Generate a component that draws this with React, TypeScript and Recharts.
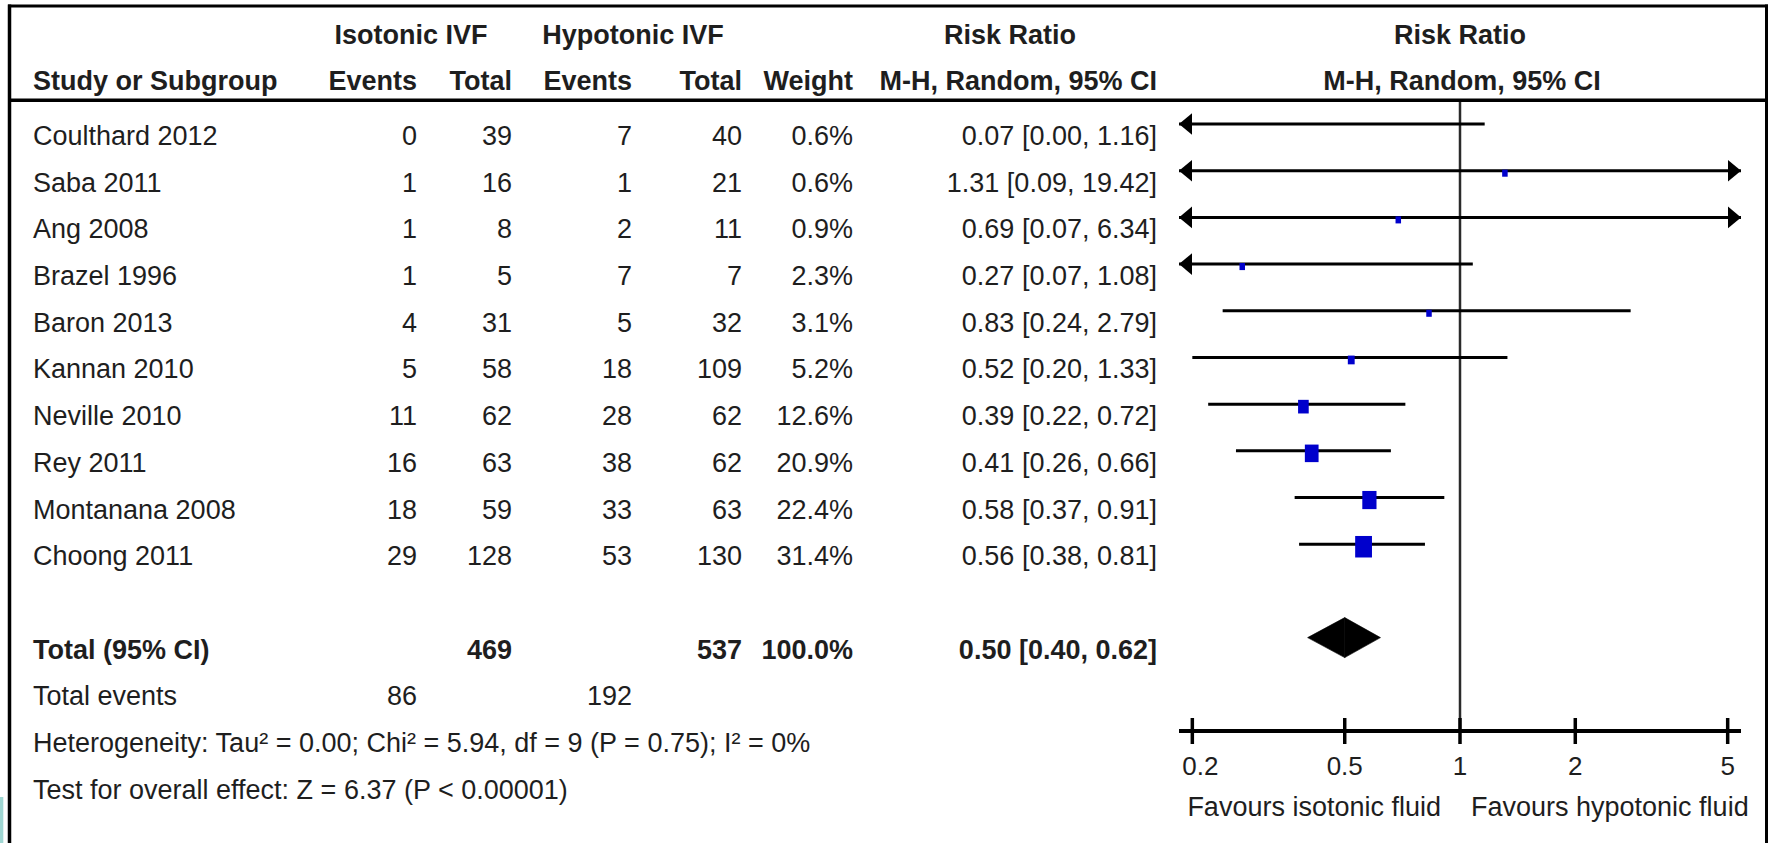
import React from 'react';
import { ComposedChart, XAxis, YAxis, Scatter, ReferenceLine } from 'recharts';

// ---------- data ----------
const studies = ['Coulthard 2012', 'Saba 2011', 'Ang 2008', 'Brazel 1996', 'Baron 2013', 'Kannan 2010', 'Neville 2010', 'Rey 2011', 'Montanana 2008', 'Choong 2011'];
const isoEvents = [0, 1, 1, 1, 4, 5, 11, 16, 18, 29];
const isoTotal = [39, 16, 8, 5, 31, 58, 62, 63, 59, 128];
const hypoEvents = [7, 1, 2, 7, 5, 18, 28, 38, 33, 53];
const hypoTotal = [40, 21, 11, 7, 32, 109, 62, 62, 63, 130];
const weights = [0.6, 0.6, 0.9, 2.3, 3.1, 5.2, 12.6, 20.9, 22.4, 31.4];
const riskRatio = [0.07, 1.31, 0.69, 0.27, 0.83, 0.52, 0.39, 0.41, 0.58, 0.56];
const ciLow = [0.0, 0.09, 0.07, 0.07, 0.24, 0.2, 0.22, 0.26, 0.37, 0.38];
const ciHigh = [1.16, 19.42, 6.34, 1.08, 2.79, 1.33, 0.72, 0.66, 0.91, 0.81];

const pooled = { rr: 0.5, low: 0.4, high: 0.62 };
const totals = { isoTotal: 469, hypoTotal: 537, weight: '100.0%', isoEvents: 86, hypoEvents: 192 };
const axisTicks = [0.2, 0.5, 1, 2, 5];
const heterogeneityText = 'Heterogeneity: Tau\u00B2 = 0.00; Chi\u00B2 = 5.94, df = 9 (P = 0.75); I\u00B2 = 0%';
const overallText = 'Test for overall effect: Z = 6.37 (P < 0.00001)';
const favoursLeft = 'Favours isotonic fluid';
const favoursRight = 'Favours hypotonic fluid';

// ---------- layout ----------
const W = 1771;
const H = 843;
const FONT = '"Liberation Sans", Arial, Helvetica, sans-serif';
const TXT = '#1e1e1e';
const X_MIN = 0.1846;
const X_MAX = 5.417;
const PLOT_LEFT = 1179;
const PLOT_RIGHT = 1741;
const PLOT_TOP = 100;
const AXIS_Y = 731;
const Y_MIN = -0.514;
const Y_MAX = 13;
const ROW_PITCH = (AXIS_Y - PLOT_TOP) / (Y_MAX - Y_MIN);
const rowLine = (r: number) => PLOT_TOP + (r - Y_MIN) * ROW_PITCH;
const BASE_OFF = 21;
const TOTAL_ROW = 11;
const EVENTS_ROW = 12;
const HET_ROW = 13;
const TEST_ROW = 14;

const COL_NAME = 33;
const COL_ISO_EV = 417;
const COL_ISO_TOT = 512;
const COL_HYP_EV = 632;
const COL_HYP_TOT = 742;
const COL_WEIGHT = 853;
const COL_RR = 1157;
const FS = 27;

const fmt2 = (v: number) => v.toFixed(2);
const rrText = (r: number, l: number, h: number) => `${fmt2(r)} [${fmt2(l)}, ${fmt2(h)}]`;

const T = ({ x, y, anchor = 'start', bold = false, size = FS, children }: any) => (
  <text x={x} y={y} textAnchor={anchor} fontFamily={FONT} fontSize={size} fontWeight={bold ? 700 : 400} fill={TXT}>
    {children}
  </text>
);

const squareData = studies
  .map((s, i) => ({ x: riskRatio[i], y: i, w: weights[i], name: s }))
  .filter((d) => d.x >= X_MIN && d.x <= X_MAX);

const SquareShape = (props: any) => {
  const { cx, cy, payload } = props;
  if (cx == null || cy == null) return <g />;
  const w = Math.max(5.5, 3 * Math.sqrt(payload.w));
  const h = w * 1.28;
  return <rect x={cx - w / 2} y={cy + 2.5 - h / 2} width={w} height={h} fill="#0000CC" />;
};

const makeCiShape = (arrowL: boolean, arrowR: boolean) => (p: any) => {
  const { x1, y1, x2 } = p;
  const y = y1;
  const ah = 10.8;
  const al = 13;
  return (
    <g>
      <line x1={x1} y1={y} x2={x2} y2={y} stroke="#000" strokeWidth={3} />
      {arrowL && <polygon points={`${x1},${y} ${x1 + al},${y - ah} ${x1 + al},${y + ah}`} fill="#000" />}
      {arrowR && <polygon points={`${x2},${y} ${x2 - al},${y - ah} ${x2 - al},${y + ah}`} fill="#000" />}
    </g>
  );
};

const DIAMOND_H = 20;
const diamondLeft = (p: any) => {
  const { x1, y1, x2 } = p;
  return <polygon points={`${x1},${y1} ${x2},${y1 - DIAMOND_H} ${x2},${y1 + DIAMOND_H}`} fill="#000" stroke="#000" strokeWidth={0.6} />;
};
const diamondRight = (p: any) => {
  const { x1, y1, x2 } = p;
  return <polygon points={`${x1},${y1 - DIAMOND_H} ${x2},${y1} ${x1},${y1 + DIAMOND_H}`} fill="#000" stroke="#000" strokeWidth={0.6} />;
};

const AxisTick = (props: any) => {
  const { x, y, payload, index } = props;
  const first = index === 0;
  return (
    <g>
      <line x1={x} x2={x} y1={y - 13} y2={y + 13} stroke="#000" strokeWidth={3.5} />
      <text
        x={first ? x - 10 : x}
        y={y + 44}
        textAnchor={first ? 'start' : 'middle'}
        fontFamily={FONT}
        fontSize={26}
        fill={TXT}
      >
        {String(payload.value)}
      </text>
    </g>
  );
};

export default function App() {
  const refX = PLOT_LEFT + ((Math.log10(1) - Math.log10(X_MIN)) / (Math.log10(X_MAX) - Math.log10(X_MIN))) * (PLOT_RIGHT - PLOT_LEFT);
  return (
    <div style={{ position: 'absolute', left: 0, top: 0, width: W, height: H, background: '#fff', overflow: 'hidden' }}>
      <div style={{ position: 'absolute', left: 0, top: 0 }}>
        <ComposedChart
          width={W}
          height={H}
          margin={{ top: PLOT_TOP, right: W - PLOT_RIGHT, bottom: H - AXIS_Y - 30, left: PLOT_LEFT }}
        >
          <XAxis
            dataKey="x"
            type="number"
            scale="log"
            domain={[X_MIN, X_MAX]}
            ticks={axisTicks}
            interval={0}
            height={30}
            tickLine={false}
            tickSize={0}
            tickMargin={0}
            axisLine={{ stroke: '#000', strokeWidth: 4 }}
            tick={<AxisTick />}
          />
          <YAxis dataKey="y" type="number" domain={[Y_MIN, Y_MAX]} reversed hide />
          <ReferenceLine x={1} stroke="#2a2a2a" strokeWidth={2.5} ifOverflow="visible" />
          {studies.map((s, i) => {
            const lo = Math.max(ciLow[i], X_MIN);
            const hi = Math.min(ciHigh[i], X_MAX);
            return (
              <ReferenceLine
                key={s}
                segment={[{ x: lo, y: i }, { x: hi, y: i }]}
                ifOverflow="visible"
                shape={makeCiShape(ciLow[i] < X_MIN, ciHigh[i] > X_MAX)}
              />
            );
          })}
          <ReferenceLine segment={[{ x: pooled.low, y: TOTAL_ROW }, { x: pooled.rr, y: TOTAL_ROW }]} ifOverflow="visible" shape={diamondLeft} />
          <ReferenceLine segment={[{ x: pooled.rr, y: TOTAL_ROW }, { x: pooled.high, y: TOTAL_ROW }]} ifOverflow="visible" shape={diamondRight} />
          <Scatter data={squareData} isAnimationActive={false} shape={<SquareShape />} />
        </ComposedChart>
      </div>
      <svg width={W} height={H} style={{ position: 'absolute', left: 0, top: 0, pointerEvents: 'none' }}>
        {/* frame */}
        <line x1={8} y1={6} x2={1768} y2={6} stroke="#000" strokeWidth={3} />
        <line x1={9.5} y1={4.5} x2={9.5} y2={H} stroke="#000" strokeWidth={3.5} />
        <line x1={1766.5} y1={4.5} x2={1766.5} y2={H} stroke="#000" strokeWidth={3} />
        <line x1={9} y1={100.3} x2={1767} y2={100.3} stroke="#000" strokeWidth={3.5} />
        <rect x={0} y={797} width={3.3} height={46} fill="#9fd6d2" />

        {/* header */}
        <T x={411} y={44} anchor="middle" bold>Isotonic IVF</T>
        <T x={633} y={44} anchor="middle" bold>Hypotonic IVF</T>
        <T x={1010} y={44} anchor="middle" bold>Risk Ratio</T>
        <T x={refX} y={44} anchor="middle" bold>Risk Ratio</T>
        <T x={COL_NAME} y={90} bold>Study or Subgroup</T>
        <T x={COL_ISO_EV} y={90} anchor="end" bold>Events</T>
        <T x={COL_ISO_TOT} y={90} anchor="end" bold>Total</T>
        <T x={COL_HYP_EV} y={90} anchor="end" bold>Events</T>
        <T x={COL_HYP_TOT} y={90} anchor="end" bold>Total</T>
        <T x={COL_WEIGHT} y={90} anchor="end" bold>Weight</T>
        <T x={COL_RR} y={90} anchor="end" bold>M-H, Random, 95% CI</T>
        <T x={refX + 2} y={90} anchor="middle" bold>M-H, Random, 95% CI</T>

        {/* study rows */}
        {studies.map((s, i) => {
          const y = rowLine(i) + BASE_OFF;
          return (
            <g key={s}>
              <T x={COL_NAME} y={y}>{s}</T>
              <T x={COL_ISO_EV} y={y} anchor="end">{isoEvents[i]}</T>
              <T x={COL_ISO_TOT} y={y} anchor="end">{isoTotal[i]}</T>
              <T x={COL_HYP_EV} y={y} anchor="end">{hypoEvents[i]}</T>
              <T x={COL_HYP_TOT} y={y} anchor="end">{hypoTotal[i]}</T>
              <T x={COL_WEIGHT} y={y} anchor="end">{weights[i].toFixed(1)}%</T>
              <T x={COL_RR} y={y} anchor="end">{rrText(riskRatio[i], ciLow[i], ciHigh[i])}</T>
            </g>
          );
        })}

        {/* totals */}
        <T x={COL_NAME} y={rowLine(TOTAL_ROW) + BASE_OFF} bold>Total (95% CI)</T>
        <T x={COL_ISO_TOT} y={rowLine(TOTAL_ROW) + BASE_OFF} anchor="end" bold>{totals.isoTotal}</T>
        <T x={COL_HYP_TOT} y={rowLine(TOTAL_ROW) + BASE_OFF} anchor="end" bold>{totals.hypoTotal}</T>
        <T x={COL_WEIGHT} y={rowLine(TOTAL_ROW) + BASE_OFF} anchor="end" bold>{totals.weight}</T>
        <T x={COL_RR} y={rowLine(TOTAL_ROW) + BASE_OFF} anchor="end" bold>{rrText(pooled.rr, pooled.low, pooled.high)}</T>

        <T x={COL_NAME} y={rowLine(EVENTS_ROW) + BASE_OFF}>Total events</T>
        <T x={COL_ISO_EV} y={rowLine(EVENTS_ROW) + BASE_OFF} anchor="end">{totals.isoEvents}</T>
        <T x={COL_HYP_EV} y={rowLine(EVENTS_ROW) + BASE_OFF} anchor="end">{totals.hypoEvents}</T>

        <T x={COL_NAME} y={rowLine(HET_ROW) + BASE_OFF}>{heterogeneityText}</T>
        <T x={COL_NAME} y={rowLine(TEST_ROW) + BASE_OFF}>{overallText}</T>

        {/* favours labels */}
        <T x={refX - 19} y={816} anchor="end">{favoursLeft}</T>
        <T x={refX + 11} y={816}>{favoursRight}</T>
      </svg>
    </div>
  );
}
